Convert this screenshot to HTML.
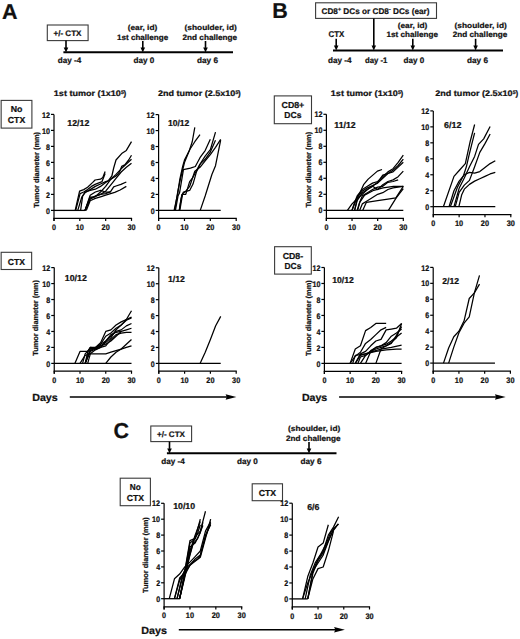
<!DOCTYPE html>
<html><head><meta charset="utf-8"><style>
html,body{margin:0;padding:0;background:#fff;}
body{width:520px;height:639px;overflow:hidden;}
svg{display:block;}
text{font-family:"Liberation Sans", sans-serif;font-weight:bold;fill:#111;stroke:#111;stroke-width:0.22px;text-rendering:geometricPrecision;}
</style></head><body>
<svg width="520" height="639" viewBox="0 0 520 639">
<rect width="520" height="639" fill="#fff"/>
<text x="2.00" y="18.80" font-size="21.5">A</text>
<text x="272.30" y="17.70" font-size="21.5">B</text>
<text x="113.40" y="437.60" font-size="21.5">C</text>
<rect x="47.30" y="25.00" width="40.80" height="15.60" fill="none" stroke="#3a3a3a" stroke-width="1.1"/>
<text x="53.50" y="36.10" font-size="8.0" textLength="28.00" lengthAdjust="spacingAndGlyphs">+/- CTX</text>
<line x1="66.00" y1="40.60" x2="66.00" y2="47.90" stroke="#000" stroke-width="1.6"/>
<path d="M63.70,47.40 L68.30,47.40 L66.00,52.40 Z" fill="#000"/>
<line x1="63.40" y1="52.30" x2="233.00" y2="52.30" stroke="#000" stroke-width="2.0"/>
<text x="127.70" y="30.30" font-size="7.6" textLength="29.60" lengthAdjust="spacingAndGlyphs">(ear, id)</text>
<text x="117.00" y="39.60" font-size="7.8" textLength="51.20" lengthAdjust="spacingAndGlyphs">1st challenge</text>
<line x1="142.80" y1="41.00" x2="142.80" y2="47.90" stroke="#000" stroke-width="1.6"/>
<path d="M140.50,47.40 L145.10,47.40 L142.80,52.40 Z" fill="#000"/>
<text x="184.60" y="30.30" font-size="7.6" textLength="52.20" lengthAdjust="spacingAndGlyphs">(shoulder, id)</text>
<text x="182.50" y="39.60" font-size="7.8" textLength="54.60" lengthAdjust="spacingAndGlyphs">2nd challenge</text>
<line x1="205.50" y1="41.00" x2="205.50" y2="47.90" stroke="#000" stroke-width="1.6"/>
<path d="M203.20,47.40 L207.80,47.40 L205.50,52.40 Z" fill="#000"/>
<text x="57.70" y="62.70" font-size="8.1" textLength="23.50" lengthAdjust="spacingAndGlyphs">day -4</text>
<text x="133.60" y="62.70" font-size="8.1" textLength="20.80" lengthAdjust="spacingAndGlyphs">day 0</text>
<text x="197.00" y="62.70" font-size="8.1" textLength="21.00" lengthAdjust="spacingAndGlyphs">day 6</text>
<rect x="150.80" y="426.00" width="40.80" height="15.60" fill="none" stroke="#3a3a3a" stroke-width="1.1"/>
<text x="157.00" y="437.10" font-size="8.0" textLength="28.00" lengthAdjust="spacingAndGlyphs">+/- CTX</text>
<line x1="169.50" y1="441.60" x2="169.50" y2="448.90" stroke="#000" stroke-width="1.6"/>
<path d="M167.20,448.40 L171.80,448.40 L169.50,453.40 Z" fill="#000"/>
<line x1="166.90" y1="453.30" x2="336.50" y2="453.30" stroke="#000" stroke-width="2.0"/>
<text x="288.10" y="431.30" font-size="7.6" textLength="52.20" lengthAdjust="spacingAndGlyphs">(shoulder, id)</text>
<text x="286.00" y="440.60" font-size="7.8" textLength="54.60" lengthAdjust="spacingAndGlyphs">2nd challenge</text>
<line x1="309.00" y1="442.00" x2="309.00" y2="448.90" stroke="#000" stroke-width="1.6"/>
<path d="M306.70,448.40 L311.30,448.40 L309.00,453.40 Z" fill="#000"/>
<text x="161.20" y="463.70" font-size="8.1" textLength="23.50" lengthAdjust="spacingAndGlyphs">day -4</text>
<text x="237.10" y="463.70" font-size="8.1" textLength="20.80" lengthAdjust="spacingAndGlyphs">day 0</text>
<text x="300.50" y="463.70" font-size="8.1" textLength="21.00" lengthAdjust="spacingAndGlyphs">day 6</text>
<rect x="315.60" y="2.80" width="120.90" height="15.60" fill="none" stroke="#3a3a3a" stroke-width="1.1"/>
<text x="321.5" y="13.8" font-size="8.2" textLength="108" lengthAdjust="spacingAndGlyphs">CD8<tspan font-size="5.2" dy="-3">+</tspan><tspan dy="3"> DCs or CD8</tspan><tspan font-size="5.2" dy="-3">-</tspan><tspan dy="3"> DCs (ear)</tspan></text>
<text x="328.50" y="36.70" font-size="8.4" textLength="15.80" lengthAdjust="spacingAndGlyphs">CTX</text>
<line x1="336.20" y1="38.80" x2="336.20" y2="46.00" stroke="#000" stroke-width="1.6"/>
<path d="M333.90,45.50 L338.50,45.50 L336.20,50.50 Z" fill="#000"/>
<line x1="373.80" y1="18.40" x2="373.80" y2="46.00" stroke="#000" stroke-width="1.6"/>
<path d="M371.50,45.50 L376.10,45.50 L373.80,50.50 Z" fill="#000"/>
<line x1="333.00" y1="50.50" x2="503.00" y2="50.50" stroke="#000" stroke-width="2.0"/>
<text x="397.70" y="27.60" font-size="7.6" textLength="29.70" lengthAdjust="spacingAndGlyphs">(ear, id)</text>
<text x="386.50" y="37.20" font-size="7.8" textLength="51.50" lengthAdjust="spacingAndGlyphs">1st challenge</text>
<line x1="412.80" y1="38.80" x2="412.80" y2="46.00" stroke="#000" stroke-width="1.6"/>
<path d="M410.50,45.50 L415.10,45.50 L412.80,50.50 Z" fill="#000"/>
<text x="454.60" y="27.60" font-size="7.6" textLength="52.20" lengthAdjust="spacingAndGlyphs">(shoulder, id)</text>
<text x="452.80" y="37.20" font-size="7.8" textLength="54.40" lengthAdjust="spacingAndGlyphs">2nd challenge</text>
<line x1="475.60" y1="38.80" x2="475.60" y2="46.00" stroke="#000" stroke-width="1.6"/>
<path d="M473.30,45.50 L477.90,45.50 L475.60,50.50 Z" fill="#000"/>
<text x="328.00" y="62.70" font-size="8.1" textLength="23.50" lengthAdjust="spacingAndGlyphs">day -4</text>
<text x="364.90" y="62.70" font-size="8.1" textLength="22.50" lengthAdjust="spacingAndGlyphs">day -1</text>
<text x="403.50" y="62.70" font-size="8.1" textLength="20.70" lengthAdjust="spacingAndGlyphs">day 0</text>
<text x="467.00" y="62.70" font-size="8.1" textLength="21.00" lengthAdjust="spacingAndGlyphs">day 6</text>
<text x="53.80" y="95.60" font-size="8.1" textLength="67.00" lengthAdjust="spacingAndGlyphs">1st tumor (1x10</text>
<text x="120.90" y="93.50" font-size="5.0" textLength="2.90" lengthAdjust="spacingAndGlyphs">5</text>
<text x="123.60" y="95.60" font-size="8.1" textLength="2.70" lengthAdjust="spacingAndGlyphs">)</text>
<text x="330.80" y="95.60" font-size="8.1" textLength="67.00" lengthAdjust="spacingAndGlyphs">1st tumor (1x10</text>
<text x="397.90" y="93.50" font-size="5.0" textLength="2.90" lengthAdjust="spacingAndGlyphs">5</text>
<text x="400.60" y="95.60" font-size="8.1" textLength="2.70" lengthAdjust="spacingAndGlyphs">)</text>
<text x="158.00" y="95.60" font-size="8.1" textLength="77.30" lengthAdjust="spacingAndGlyphs">2nd tumor (2.5x10</text>
<text x="235.40" y="93.50" font-size="5.0" textLength="2.90" lengthAdjust="spacingAndGlyphs">5</text>
<text x="238.10" y="95.60" font-size="8.1" textLength="2.70" lengthAdjust="spacingAndGlyphs">)</text>
<text x="435.30" y="95.60" font-size="8.1" textLength="77.30" lengthAdjust="spacingAndGlyphs">2nd tumor (2.5x10</text>
<text x="512.70" y="93.50" font-size="5.0" textLength="2.90" lengthAdjust="spacingAndGlyphs">5</text>
<text x="515.40" y="95.60" font-size="8.1" textLength="2.70" lengthAdjust="spacingAndGlyphs">)</text>
<rect x="1.15" y="100.40" width="30.75" height="27.70" fill="none" stroke="#3a3a3a" stroke-width="1.1"/>
<text x="16.52" y="112.10" font-size="8.7" text-anchor="middle" textLength="11.70" lengthAdjust="spacingAndGlyphs">No</text>
<text x="16.52" y="122.50" font-size="8.7" text-anchor="middle" textLength="17.30" lengthAdjust="spacingAndGlyphs">CTX</text>
<rect x="1.15" y="252.30" width="30.50" height="17.20" fill="none" stroke="#3a3a3a" stroke-width="1.1"/>
<text x="16.40" y="264.50" font-size="8.7" text-anchor="middle" textLength="17.10" lengthAdjust="spacingAndGlyphs">CTX</text>
<rect x="274.30" y="95.90" width="37.20" height="27.80" fill="none" stroke="#3a3a3a" stroke-width="1.1"/>
<text x="292.90" y="107.80" font-size="8.7" text-anchor="middle" textLength="22.70" lengthAdjust="spacingAndGlyphs">CD8+</text>
<text x="292.90" y="117.90" font-size="8.7" text-anchor="middle" textLength="17.10" lengthAdjust="spacingAndGlyphs">DCs</text>
<rect x="274.60" y="246.70" width="36.70" height="27.40" fill="none" stroke="#3a3a3a" stroke-width="1.1"/>
<text x="292.95" y="258.50" font-size="8.7" text-anchor="middle" textLength="20.50" lengthAdjust="spacingAndGlyphs">CD8-</text>
<text x="292.95" y="269.00" font-size="8.7" text-anchor="middle" textLength="16.80" lengthAdjust="spacingAndGlyphs">DCs</text>
<rect x="120.20" y="478.20" width="30.20" height="27.50" fill="none" stroke="#3a3a3a" stroke-width="1.1"/>
<text x="135.30" y="489.80" font-size="8.7" text-anchor="middle" textLength="11.00" lengthAdjust="spacingAndGlyphs">No</text>
<text x="135.30" y="500.50" font-size="8.7" text-anchor="middle" textLength="17.20" lengthAdjust="spacingAndGlyphs">CTX</text>
<rect x="252.20" y="483.80" width="30.30" height="16.90" fill="none" stroke="#3a3a3a" stroke-width="1.1"/>
<text x="267.35" y="495.50" font-size="8.7" text-anchor="middle" textLength="17.30" lengthAdjust="spacingAndGlyphs">CTX</text>
<text x="32.20" y="401.30" font-size="10.3" textLength="25.60" lengthAdjust="spacingAndGlyphs">Days</text>
<line x1="69.80" y1="397.00" x2="227.40" y2="397.00" stroke="#000" stroke-width="1.35"/>
<path d="M225.60,394.20 L236.40,397.00 L225.60,399.80 L226.80,397.00 Z" fill="#000"/>
<text x="301.90" y="401.30" font-size="10.3" textLength="25.40" lengthAdjust="spacingAndGlyphs">Days</text>
<line x1="339.10" y1="397.00" x2="496.70" y2="397.00" stroke="#000" stroke-width="1.35"/>
<path d="M494.90,394.20 L505.70,397.00 L494.90,399.80 L496.10,397.00 Z" fill="#000"/>
<text x="141.20" y="633.90" font-size="10.3" textLength="25.70" lengthAdjust="spacingAndGlyphs">Days</text>
<line x1="178.80" y1="629.70" x2="335.90" y2="629.70" stroke="#000" stroke-width="1.35"/>
<path d="M334.10,626.90 L344.90,629.70 L334.10,632.50 L335.30,629.70 Z" fill="#000"/>
<line x1="54.00" y1="114.40" x2="54.00" y2="220.90" stroke="#000" stroke-width="1.2"/>
<line x1="53.40" y1="218.30" x2="132.10" y2="218.30" stroke="#000" stroke-width="1.2"/>
<line x1="51.00" y1="210.40" x2="54.00" y2="210.40" stroke="#000" stroke-width="1.2"/>
<text x="50.00" y="213.50" font-size="8.1" text-anchor="end" textLength="3.95" lengthAdjust="spacingAndGlyphs">0</text>
<line x1="51.00" y1="194.40" x2="54.00" y2="194.40" stroke="#000" stroke-width="1.2"/>
<text x="50.00" y="197.50" font-size="8.1" text-anchor="end" textLength="3.95" lengthAdjust="spacingAndGlyphs">2</text>
<line x1="51.00" y1="178.40" x2="54.00" y2="178.40" stroke="#000" stroke-width="1.2"/>
<text x="50.00" y="181.50" font-size="8.1" text-anchor="end" textLength="3.95" lengthAdjust="spacingAndGlyphs">4</text>
<line x1="51.00" y1="162.40" x2="54.00" y2="162.40" stroke="#000" stroke-width="1.2"/>
<text x="50.00" y="165.50" font-size="8.1" text-anchor="end" textLength="3.95" lengthAdjust="spacingAndGlyphs">6</text>
<line x1="51.00" y1="146.40" x2="54.00" y2="146.40" stroke="#000" stroke-width="1.2"/>
<text x="50.00" y="149.50" font-size="8.1" text-anchor="end" textLength="3.95" lengthAdjust="spacingAndGlyphs">8</text>
<line x1="51.00" y1="130.40" x2="54.00" y2="130.40" stroke="#000" stroke-width="1.2"/>
<text x="50.00" y="133.50" font-size="8.1" text-anchor="end" textLength="8.00" lengthAdjust="spacingAndGlyphs">10</text>
<line x1="51.00" y1="114.40" x2="54.00" y2="114.40" stroke="#000" stroke-width="1.2"/>
<text x="50.00" y="117.50" font-size="8.1" text-anchor="end" textLength="8.00" lengthAdjust="spacingAndGlyphs">12</text>
<line x1="54.00" y1="218.30" x2="54.00" y2="220.90" stroke="#000" stroke-width="1.2"/>
<text x="54.00" y="229.90" font-size="8.0" text-anchor="middle" textLength="4.00" lengthAdjust="spacingAndGlyphs">0</text>
<line x1="79.83" y1="218.30" x2="79.83" y2="220.90" stroke="#000" stroke-width="1.2"/>
<text x="79.83" y="229.90" font-size="8.0" text-anchor="middle" textLength="8.20" lengthAdjust="spacingAndGlyphs">10</text>
<line x1="105.67" y1="218.30" x2="105.67" y2="220.90" stroke="#000" stroke-width="1.2"/>
<text x="105.67" y="229.90" font-size="8.0" text-anchor="middle" textLength="8.20" lengthAdjust="spacingAndGlyphs">20</text>
<line x1="131.50" y1="218.30" x2="131.50" y2="220.90" stroke="#000" stroke-width="1.2"/>
<text x="131.50" y="229.90" font-size="8.0" text-anchor="middle" textLength="8.20" lengthAdjust="spacingAndGlyphs">30</text>
<line x1="54.00" y1="210.40" x2="85.26" y2="210.40" stroke="#000" stroke-width="1.3"/>
<polyline points="75.18,210.40 79.58,191.20 83.71,189.60 87.58,187.20 92.75,182.40 95.08,180.00 100.50,179.20 102.82,177.60 105.15,171.60" fill="none" stroke="#000" stroke-width="1.25" stroke-linejoin="round"/>
<polyline points="75.70,210.40 80.09,193.60 83.71,192.00 87.58,189.60 91.46,186.40 95.08,184.40 102.05,181.60 105.15,173.60" fill="none" stroke="#000" stroke-width="1.25" stroke-linejoin="round"/>
<polyline points="77.77,210.40 81.90,196.80 85.00,192.80 90.17,189.60 95.33,186.40 100.50,184.00 105.67,181.60 108.25,180.80 111.87,176.00 113.68,168.00 116.00,160.00 121.68,153.60 126.33,150.40 131.50,141.60" fill="none" stroke="#000" stroke-width="1.25" stroke-linejoin="round"/>
<polyline points="80.61,210.40 82.67,196.00 85.00,192.00 90.17,190.40 95.33,189.20 100.50,186.40 105.67,182.40 110.83,179.20 116.00,176.00 118.58,173.60 120.13,170.40 121.68,166.40 124.78,164.80 128.66,160.00 131.50,155.20" fill="none" stroke="#000" stroke-width="1.25" stroke-linejoin="round"/>
<polyline points="85.00,210.40 89.91,197.20 95.08,196.80 100.50,192.00 105.67,186.40 110.83,179.20 116.00,174.40 121.17,168.80 126.33,164.00 131.50,159.20" fill="none" stroke="#000" stroke-width="1.25" stroke-linejoin="round"/>
<polyline points="85.00,210.40 89.91,198.40 95.33,196.00 100.50,194.40 105.67,191.20 110.83,184.80 116.00,178.40 121.17,172.00 126.33,167.20 131.50,163.20" fill="none" stroke="#000" stroke-width="1.25" stroke-linejoin="round"/>
<polyline points="85.00,210.40 90.17,199.20 95.33,196.40 100.50,194.40 105.67,193.60 110.58,191.60 113.68,186.80 116.00,186.00 120.91,184.40 126.33,182.00" fill="none" stroke="#000" stroke-width="1.25" stroke-linejoin="round"/>
<polyline points="86.29,210.40 90.17,200.80 95.33,198.40 100.50,196.80 105.67,195.20 110.58,193.60 114.71,192.40 120.13,190.00 126.33,186.40" fill="none" stroke="#000" stroke-width="1.25" stroke-linejoin="round"/>
<polyline points="85.00,210.40 90.17,195.20 95.33,192.00 100.50,190.40 105.67,192.00 110.58,192.00" fill="none" stroke="#000" stroke-width="1.25" stroke-linejoin="round"/>
<text transform="translate(39.00,169.80) rotate(-90)" x="0" y="0" font-size="7.4" text-anchor="middle" textLength="75.7" lengthAdjust="spacingAndGlyphs">Tumor diameter (mm)</text>
<text x="67.30" y="125.70" font-size="8.6" textLength="22.00" lengthAdjust="spacingAndGlyphs">12/12</text>
<line x1="158.60" y1="114.60" x2="158.60" y2="221.00" stroke="#000" stroke-width="1.2"/>
<line x1="158.00" y1="218.40" x2="236.80" y2="218.40" stroke="#000" stroke-width="1.2"/>
<line x1="155.60" y1="210.40" x2="158.60" y2="210.40" stroke="#000" stroke-width="1.2"/>
<text x="154.60" y="213.50" font-size="8.1" text-anchor="end" textLength="3.95" lengthAdjust="spacingAndGlyphs">0</text>
<line x1="155.60" y1="194.43" x2="158.60" y2="194.43" stroke="#000" stroke-width="1.2"/>
<text x="154.60" y="197.53" font-size="8.1" text-anchor="end" textLength="3.95" lengthAdjust="spacingAndGlyphs">2</text>
<line x1="155.60" y1="178.47" x2="158.60" y2="178.47" stroke="#000" stroke-width="1.2"/>
<text x="154.60" y="181.57" font-size="8.1" text-anchor="end" textLength="3.95" lengthAdjust="spacingAndGlyphs">4</text>
<line x1="155.60" y1="162.50" x2="158.60" y2="162.50" stroke="#000" stroke-width="1.2"/>
<text x="154.60" y="165.60" font-size="8.1" text-anchor="end" textLength="3.95" lengthAdjust="spacingAndGlyphs">6</text>
<line x1="155.60" y1="146.53" x2="158.60" y2="146.53" stroke="#000" stroke-width="1.2"/>
<text x="154.60" y="149.63" font-size="8.1" text-anchor="end" textLength="3.95" lengthAdjust="spacingAndGlyphs">8</text>
<line x1="155.60" y1="130.57" x2="158.60" y2="130.57" stroke="#000" stroke-width="1.2"/>
<text x="154.60" y="133.67" font-size="8.1" text-anchor="end" textLength="8.00" lengthAdjust="spacingAndGlyphs">10</text>
<line x1="155.60" y1="114.60" x2="158.60" y2="114.60" stroke="#000" stroke-width="1.2"/>
<text x="154.60" y="117.70" font-size="8.1" text-anchor="end" textLength="8.00" lengthAdjust="spacingAndGlyphs">12</text>
<line x1="158.60" y1="218.40" x2="158.60" y2="221.00" stroke="#000" stroke-width="1.2"/>
<text x="158.60" y="230.00" font-size="8.0" text-anchor="middle" textLength="4.00" lengthAdjust="spacingAndGlyphs">0</text>
<line x1="184.47" y1="218.40" x2="184.47" y2="221.00" stroke="#000" stroke-width="1.2"/>
<text x="184.47" y="230.00" font-size="8.0" text-anchor="middle" textLength="8.20" lengthAdjust="spacingAndGlyphs">10</text>
<line x1="210.33" y1="218.40" x2="210.33" y2="221.00" stroke="#000" stroke-width="1.2"/>
<text x="210.33" y="230.00" font-size="8.0" text-anchor="middle" textLength="8.20" lengthAdjust="spacingAndGlyphs">20</text>
<line x1="236.20" y1="218.40" x2="236.20" y2="221.00" stroke="#000" stroke-width="1.2"/>
<text x="236.20" y="230.00" font-size="8.0" text-anchor="middle" textLength="8.20" lengthAdjust="spacingAndGlyphs">30</text>
<line x1="158.60" y1="210.40" x2="220.68" y2="210.40" stroke="#000" stroke-width="1.3"/>
<polyline points="174.12,210.40 177.74,193.63 179.81,179.27 182.66,166.49 184.47,160.11 189.38,150.53 192.23,141.74 194.81,127.37" fill="none" stroke="#000" stroke-width="1.25" stroke-linejoin="round"/>
<polyline points="174.64,210.40 178.00,190.44 180.59,178.47 184.47,162.50 189.64,149.73 194.81,141.74 199.99,134.56" fill="none" stroke="#000" stroke-width="1.25" stroke-linejoin="round"/>
<polyline points="175.41,210.40 178.00,196.03 179.55,192.84 183.43,169.69 190.42,168.09 195.33,166.49 199.99,157.71 205.16,150.53 210.33,139.35" fill="none" stroke="#000" stroke-width="1.25" stroke-linejoin="round"/>
<polyline points="179.29,210.40 181.10,198.43 183.43,192.04 189.64,190.44 193.00,184.06 196.37,172.08 201.02,162.50 205.16,156.11 210.33,149.73 215.51,132.16" fill="none" stroke="#000" stroke-width="1.25" stroke-linejoin="round"/>
<polyline points="179.29,210.40 181.88,194.43 185.76,194.43 189.64,181.66 192.23,178.47 194.81,173.68 199.99,164.10 205.16,159.31 210.33,152.12 215.51,140.15" fill="none" stroke="#000" stroke-width="1.25" stroke-linejoin="round"/>
<polyline points="179.81,210.40 182.66,193.63 185.76,191.24 189.64,186.45 194.81,171.28 199.99,167.29 205.16,160.90 210.33,154.52 215.51,147.33 220.68,139.35" fill="none" stroke="#000" stroke-width="1.25" stroke-linejoin="round"/>
<polyline points="200.25,210.40 205.16,196.03 211.89,174.47 215.51,165.69 220.68,140.15" fill="none" stroke="#000" stroke-width="1.25" stroke-linejoin="round"/>
<text x="167.90" y="126.00" font-size="8.6" textLength="21.50" lengthAdjust="spacingAndGlyphs">10/12</text>
<line x1="326.40" y1="114.30" x2="326.40" y2="220.90" stroke="#000" stroke-width="1.2"/>
<line x1="325.80" y1="218.30" x2="403.90" y2="218.30" stroke="#000" stroke-width="1.2"/>
<line x1="323.40" y1="210.30" x2="326.40" y2="210.30" stroke="#000" stroke-width="1.2"/>
<text x="322.40" y="213.40" font-size="8.1" text-anchor="end" textLength="3.95" lengthAdjust="spacingAndGlyphs">0</text>
<line x1="323.40" y1="194.30" x2="326.40" y2="194.30" stroke="#000" stroke-width="1.2"/>
<text x="322.40" y="197.40" font-size="8.1" text-anchor="end" textLength="3.95" lengthAdjust="spacingAndGlyphs">2</text>
<line x1="323.40" y1="178.30" x2="326.40" y2="178.30" stroke="#000" stroke-width="1.2"/>
<text x="322.40" y="181.40" font-size="8.1" text-anchor="end" textLength="3.95" lengthAdjust="spacingAndGlyphs">4</text>
<line x1="323.40" y1="162.30" x2="326.40" y2="162.30" stroke="#000" stroke-width="1.2"/>
<text x="322.40" y="165.40" font-size="8.1" text-anchor="end" textLength="3.95" lengthAdjust="spacingAndGlyphs">6</text>
<line x1="323.40" y1="146.30" x2="326.40" y2="146.30" stroke="#000" stroke-width="1.2"/>
<text x="322.40" y="149.40" font-size="8.1" text-anchor="end" textLength="3.95" lengthAdjust="spacingAndGlyphs">8</text>
<line x1="323.40" y1="130.30" x2="326.40" y2="130.30" stroke="#000" stroke-width="1.2"/>
<text x="322.40" y="133.40" font-size="8.1" text-anchor="end" textLength="8.00" lengthAdjust="spacingAndGlyphs">10</text>
<line x1="323.40" y1="114.30" x2="326.40" y2="114.30" stroke="#000" stroke-width="1.2"/>
<text x="322.40" y="117.40" font-size="8.1" text-anchor="end" textLength="8.00" lengthAdjust="spacingAndGlyphs">12</text>
<line x1="326.40" y1="218.30" x2="326.40" y2="220.90" stroke="#000" stroke-width="1.2"/>
<text x="326.40" y="229.90" font-size="8.0" text-anchor="middle" textLength="4.00" lengthAdjust="spacingAndGlyphs">0</text>
<line x1="352.03" y1="218.30" x2="352.03" y2="220.90" stroke="#000" stroke-width="1.2"/>
<text x="352.03" y="229.90" font-size="8.0" text-anchor="middle" textLength="8.20" lengthAdjust="spacingAndGlyphs">10</text>
<line x1="377.67" y1="218.30" x2="377.67" y2="220.90" stroke="#000" stroke-width="1.2"/>
<text x="377.67" y="229.90" font-size="8.0" text-anchor="middle" textLength="8.20" lengthAdjust="spacingAndGlyphs">20</text>
<line x1="403.30" y1="218.30" x2="403.30" y2="220.90" stroke="#000" stroke-width="1.2"/>
<text x="403.30" y="229.90" font-size="8.0" text-anchor="middle" textLength="8.20" lengthAdjust="spacingAndGlyphs">30</text>
<line x1="326.40" y1="210.30" x2="403.30" y2="210.30" stroke="#000" stroke-width="1.3"/>
<polyline points="347.42,210.30 352.03,203.90 356.39,199.50 359.98,192.70 363.57,184.70 368.18,179.10 372.80,175.10 377.41,171.10 382.02,169.50" fill="none" stroke="#000" stroke-width="1.25" stroke-linejoin="round"/>
<polyline points="352.03,210.30 354.60,202.30 357.16,195.90 362.29,189.50 367.41,186.30 372.54,183.10 377.67,181.50 382.79,176.70 387.92,171.90 393.05,168.70 398.17,162.30 403.30,155.10" fill="none" stroke="#000" stroke-width="1.25" stroke-linejoin="round"/>
<polyline points="352.03,210.30 357.16,197.50 362.29,191.10 367.41,187.90 372.54,185.50 377.67,183.10 382.79,178.30 387.92,173.50 393.05,170.30 398.17,165.50 403.30,159.10" fill="none" stroke="#000" stroke-width="1.25" stroke-linejoin="round"/>
<polyline points="354.60,210.30 357.16,199.10 362.29,194.30 367.41,189.50 372.54,186.30 377.67,182.30 382.79,175.10 387.92,173.50 393.05,171.90 398.17,167.10 403.30,162.30" fill="none" stroke="#000" stroke-width="1.25" stroke-linejoin="round"/>
<polyline points="354.60,210.30 357.16,200.70 362.29,192.70 367.41,189.50 372.54,186.30 377.67,189.50 382.79,184.70 387.92,181.50 393.05,179.90 398.17,176.70 403.30,171.10" fill="none" stroke="#000" stroke-width="1.25" stroke-linejoin="round"/>
<polyline points="357.16,210.30 359.72,202.30 362.29,195.90 367.41,192.70 372.54,189.50 377.67,187.10 382.79,186.30 387.92,182.30 393.05,181.50 398.17,179.90" fill="none" stroke="#000" stroke-width="1.25" stroke-linejoin="round"/>
<polyline points="357.67,210.30 359.72,202.30 364.59,195.10 373.82,190.30 383.05,187.90 393.56,186.30 403.30,186.30" fill="none" stroke="#000" stroke-width="1.25" stroke-linejoin="round"/>
<polyline points="359.72,210.30 362.29,203.90 367.41,200.70 372.54,197.50 377.67,194.30 382.79,192.70 387.92,189.50 393.05,187.90 398.17,187.10 403.30,186.30" fill="none" stroke="#000" stroke-width="1.25" stroke-linejoin="round"/>
<polyline points="362.80,210.30 366.39,202.30 377.67,200.70 387.92,199.10 395.87,197.90 403.30,186.30" fill="none" stroke="#000" stroke-width="1.25" stroke-linejoin="round"/>
<polyline points="388.43,210.30 395.87,198.30 403.30,188.70" fill="none" stroke="#000" stroke-width="1.25" stroke-linejoin="round"/>
<text transform="translate(310.80,169.75) rotate(-90)" x="0" y="0" font-size="7.4" text-anchor="middle" textLength="75.7" lengthAdjust="spacingAndGlyphs">Tumor diameter (mm)</text>
<text x="334.30" y="127.60" font-size="8.6" textLength="21.40" lengthAdjust="spacingAndGlyphs">11/12</text>
<line x1="433.30" y1="110.90" x2="433.30" y2="217.20" stroke="#000" stroke-width="1.2"/>
<line x1="432.70" y1="214.60" x2="511.40" y2="214.60" stroke="#000" stroke-width="1.2"/>
<line x1="430.30" y1="206.70" x2="433.30" y2="206.70" stroke="#000" stroke-width="1.2"/>
<text x="429.30" y="209.80" font-size="8.1" text-anchor="end" textLength="3.95" lengthAdjust="spacingAndGlyphs">0</text>
<line x1="430.30" y1="190.73" x2="433.30" y2="190.73" stroke="#000" stroke-width="1.2"/>
<text x="429.30" y="193.83" font-size="8.1" text-anchor="end" textLength="3.95" lengthAdjust="spacingAndGlyphs">2</text>
<line x1="430.30" y1="174.77" x2="433.30" y2="174.77" stroke="#000" stroke-width="1.2"/>
<text x="429.30" y="177.87" font-size="8.1" text-anchor="end" textLength="3.95" lengthAdjust="spacingAndGlyphs">4</text>
<line x1="430.30" y1="158.80" x2="433.30" y2="158.80" stroke="#000" stroke-width="1.2"/>
<text x="429.30" y="161.90" font-size="8.1" text-anchor="end" textLength="3.95" lengthAdjust="spacingAndGlyphs">6</text>
<line x1="430.30" y1="142.83" x2="433.30" y2="142.83" stroke="#000" stroke-width="1.2"/>
<text x="429.30" y="145.93" font-size="8.1" text-anchor="end" textLength="3.95" lengthAdjust="spacingAndGlyphs">8</text>
<line x1="430.30" y1="126.87" x2="433.30" y2="126.87" stroke="#000" stroke-width="1.2"/>
<text x="429.30" y="129.97" font-size="8.1" text-anchor="end" textLength="8.00" lengthAdjust="spacingAndGlyphs">10</text>
<line x1="430.30" y1="110.90" x2="433.30" y2="110.90" stroke="#000" stroke-width="1.2"/>
<text x="429.30" y="114.00" font-size="8.1" text-anchor="end" textLength="8.00" lengthAdjust="spacingAndGlyphs">12</text>
<line x1="433.30" y1="214.60" x2="433.30" y2="217.20" stroke="#000" stroke-width="1.2"/>
<text x="433.30" y="226.20" font-size="8.0" text-anchor="middle" textLength="4.00" lengthAdjust="spacingAndGlyphs">0</text>
<line x1="459.13" y1="214.60" x2="459.13" y2="217.20" stroke="#000" stroke-width="1.2"/>
<text x="459.13" y="226.20" font-size="8.0" text-anchor="middle" textLength="8.20" lengthAdjust="spacingAndGlyphs">10</text>
<line x1="484.97" y1="214.60" x2="484.97" y2="217.20" stroke="#000" stroke-width="1.2"/>
<text x="484.97" y="226.20" font-size="8.0" text-anchor="middle" textLength="8.20" lengthAdjust="spacingAndGlyphs">20</text>
<line x1="510.80" y1="214.60" x2="510.80" y2="217.20" stroke="#000" stroke-width="1.2"/>
<text x="510.80" y="226.20" font-size="8.0" text-anchor="middle" textLength="8.20" lengthAdjust="spacingAndGlyphs">30</text>
<line x1="433.30" y1="206.70" x2="495.30" y2="206.70" stroke="#000" stroke-width="1.3"/>
<polyline points="443.38,206.70 453.97,176.36 459.65,169.98 465.33,163.59 470.24,141.24 474.63,124.47" fill="none" stroke="#000" stroke-width="1.25" stroke-linejoin="round"/>
<polyline points="449.06,206.70 453.97,190.73 459.13,181.15 464.30,174.77 469.47,172.37 474.63,173.17 479.80,171.57 484.97,167.58 490.13,163.59 495.30,160.80" fill="none" stroke="#000" stroke-width="1.25" stroke-linejoin="round"/>
<polyline points="450.35,206.70 457.32,187.54 463.53,175.56 466.37,166.78 468.95,155.61 471.79,144.03 474.63,132.85" fill="none" stroke="#000" stroke-width="1.25" stroke-linejoin="round"/>
<polyline points="453.97,206.70 459.13,188.34 464.30,177.96 469.47,166.78 474.63,156.41 478.51,144.43 483.68,138.84 490.13,126.47" fill="none" stroke="#000" stroke-width="1.25" stroke-linejoin="round"/>
<polyline points="455.26,206.70 459.13,192.33 464.30,185.14 469.47,180.35 474.63,166.78 479.80,152.41 484.97,143.63 490.13,134.05" fill="none" stroke="#000" stroke-width="1.25" stroke-linejoin="round"/>
<polyline points="458.88,206.70 461.72,194.72 464.30,189.14 469.47,184.35 474.63,181.15 479.80,178.76 484.97,176.36 490.13,173.97 495.30,172.37" fill="none" stroke="#000" stroke-width="1.25" stroke-linejoin="round"/>
<text x="444.00" y="127.70" font-size="8.6" textLength="17.40" lengthAdjust="spacingAndGlyphs">6/12</text>
<line x1="54.25" y1="267.60" x2="54.25" y2="373.80" stroke="#000" stroke-width="1.2"/>
<line x1="53.65" y1="371.20" x2="132.10" y2="371.20" stroke="#000" stroke-width="1.2"/>
<line x1="51.25" y1="363.40" x2="54.25" y2="363.40" stroke="#000" stroke-width="1.2"/>
<text x="50.25" y="366.50" font-size="8.1" text-anchor="end" textLength="3.95" lengthAdjust="spacingAndGlyphs">0</text>
<line x1="51.25" y1="347.43" x2="54.25" y2="347.43" stroke="#000" stroke-width="1.2"/>
<text x="50.25" y="350.53" font-size="8.1" text-anchor="end" textLength="3.95" lengthAdjust="spacingAndGlyphs">2</text>
<line x1="51.25" y1="331.47" x2="54.25" y2="331.47" stroke="#000" stroke-width="1.2"/>
<text x="50.25" y="334.57" font-size="8.1" text-anchor="end" textLength="3.95" lengthAdjust="spacingAndGlyphs">4</text>
<line x1="51.25" y1="315.50" x2="54.25" y2="315.50" stroke="#000" stroke-width="1.2"/>
<text x="50.25" y="318.60" font-size="8.1" text-anchor="end" textLength="3.95" lengthAdjust="spacingAndGlyphs">6</text>
<line x1="51.25" y1="299.53" x2="54.25" y2="299.53" stroke="#000" stroke-width="1.2"/>
<text x="50.25" y="302.63" font-size="8.1" text-anchor="end" textLength="3.95" lengthAdjust="spacingAndGlyphs">8</text>
<line x1="51.25" y1="283.57" x2="54.25" y2="283.57" stroke="#000" stroke-width="1.2"/>
<text x="50.25" y="286.67" font-size="8.1" text-anchor="end" textLength="8.00" lengthAdjust="spacingAndGlyphs">10</text>
<line x1="51.25" y1="267.60" x2="54.25" y2="267.60" stroke="#000" stroke-width="1.2"/>
<text x="50.25" y="270.70" font-size="8.1" text-anchor="end" textLength="8.00" lengthAdjust="spacingAndGlyphs">12</text>
<line x1="54.25" y1="371.20" x2="54.25" y2="373.80" stroke="#000" stroke-width="1.2"/>
<text x="54.25" y="382.80" font-size="8.0" text-anchor="middle" textLength="4.00" lengthAdjust="spacingAndGlyphs">0</text>
<line x1="80.00" y1="371.20" x2="80.00" y2="373.80" stroke="#000" stroke-width="1.2"/>
<text x="80.00" y="382.80" font-size="8.0" text-anchor="middle" textLength="8.20" lengthAdjust="spacingAndGlyphs">10</text>
<line x1="105.75" y1="371.20" x2="105.75" y2="373.80" stroke="#000" stroke-width="1.2"/>
<text x="105.75" y="382.80" font-size="8.0" text-anchor="middle" textLength="8.20" lengthAdjust="spacingAndGlyphs">20</text>
<line x1="131.50" y1="371.20" x2="131.50" y2="373.80" stroke="#000" stroke-width="1.2"/>
<text x="131.50" y="382.80" font-size="8.0" text-anchor="middle" textLength="8.20" lengthAdjust="spacingAndGlyphs">30</text>
<line x1="54.25" y1="363.40" x2="131.50" y2="363.40" stroke="#000" stroke-width="1.3"/>
<polyline points="74.85,363.40 80.00,351.42 87.72,351.42 90.30,347.43 95.45,347.43 100.60,342.64 105.75,331.47 110.90,329.87 116.05,325.08 121.20,321.89 126.35,319.49 131.50,317.10" fill="none" stroke="#000" stroke-width="1.25" stroke-linejoin="round"/>
<polyline points="80.00,363.40 85.15,355.42 90.30,353.82 95.45,353.82 100.60,353.82 105.75,353.82 110.90,352.22 116.05,350.63 121.20,349.03 126.35,347.43 131.50,345.84" fill="none" stroke="#000" stroke-width="1.25" stroke-linejoin="round"/>
<polyline points="105.75,363.40 110.90,357.01 116.05,352.22 121.20,349.03 126.35,344.24 131.50,339.45" fill="none" stroke="#000" stroke-width="1.25" stroke-linejoin="round"/>
<polyline points="82.58,363.40 85.15,353.82 90.30,348.23 95.45,349.03 100.60,345.84 105.75,342.64 110.90,337.85 116.05,329.87 121.20,325.08 126.35,319.49 131.50,310.71" fill="none" stroke="#000" stroke-width="1.25" stroke-linejoin="round"/>
<polyline points="85.15,363.40 87.72,352.22 90.30,347.43 95.45,348.23 100.60,344.24 105.75,336.26 110.90,333.06 116.05,328.27 121.20,325.08 126.35,320.29 131.50,317.89" fill="none" stroke="#000" stroke-width="1.25" stroke-linejoin="round"/>
<polyline points="85.15,363.40 90.30,350.63 95.45,347.43 100.60,344.24 105.75,341.05 110.90,336.26 116.05,331.47 121.20,329.87 126.35,325.88 131.50,323.48" fill="none" stroke="#000" stroke-width="1.25" stroke-linejoin="round"/>
<polyline points="85.15,363.40 90.30,349.03 95.45,348.23 100.60,345.84 105.75,344.24 110.90,341.05 116.05,336.26 121.20,331.47 126.35,329.87 131.50,328.27" fill="none" stroke="#000" stroke-width="1.25" stroke-linejoin="round"/>
<polyline points="87.72,363.40 90.30,353.82 95.45,349.83 100.60,347.43 105.75,345.84 110.90,339.45 116.05,334.66 121.20,333.06 126.35,332.26 131.50,332.26" fill="none" stroke="#000" stroke-width="1.25" stroke-linejoin="round"/>
<polyline points="85.15,363.40 90.30,351.42 95.45,349.03 100.60,347.43 105.75,341.05 110.90,334.66 116.05,332.26 121.20,331.47" fill="none" stroke="#000" stroke-width="1.25" stroke-linejoin="round"/>
<text transform="translate(37.80,317.95) rotate(-90)" x="0" y="0" font-size="7.4" text-anchor="middle" textLength="75.7" lengthAdjust="spacingAndGlyphs">Tumor diameter (mm)</text>
<text x="64.80" y="281.40" font-size="8.6" textLength="22.10" lengthAdjust="spacingAndGlyphs">10/12</text>
<line x1="158.80" y1="267.80" x2="158.80" y2="373.80" stroke="#000" stroke-width="1.2"/>
<line x1="158.20" y1="371.20" x2="236.80" y2="371.20" stroke="#000" stroke-width="1.2"/>
<line x1="155.80" y1="363.40" x2="158.80" y2="363.40" stroke="#000" stroke-width="1.2"/>
<text x="154.80" y="366.50" font-size="8.1" text-anchor="end" textLength="3.95" lengthAdjust="spacingAndGlyphs">0</text>
<line x1="155.80" y1="347.47" x2="158.80" y2="347.47" stroke="#000" stroke-width="1.2"/>
<text x="154.80" y="350.57" font-size="8.1" text-anchor="end" textLength="3.95" lengthAdjust="spacingAndGlyphs">2</text>
<line x1="155.80" y1="331.53" x2="158.80" y2="331.53" stroke="#000" stroke-width="1.2"/>
<text x="154.80" y="334.63" font-size="8.1" text-anchor="end" textLength="3.95" lengthAdjust="spacingAndGlyphs">4</text>
<line x1="155.80" y1="315.60" x2="158.80" y2="315.60" stroke="#000" stroke-width="1.2"/>
<text x="154.80" y="318.70" font-size="8.1" text-anchor="end" textLength="3.95" lengthAdjust="spacingAndGlyphs">6</text>
<line x1="155.80" y1="299.67" x2="158.80" y2="299.67" stroke="#000" stroke-width="1.2"/>
<text x="154.80" y="302.77" font-size="8.1" text-anchor="end" textLength="3.95" lengthAdjust="spacingAndGlyphs">8</text>
<line x1="155.80" y1="283.73" x2="158.80" y2="283.73" stroke="#000" stroke-width="1.2"/>
<text x="154.80" y="286.83" font-size="8.1" text-anchor="end" textLength="8.00" lengthAdjust="spacingAndGlyphs">10</text>
<line x1="155.80" y1="267.80" x2="158.80" y2="267.80" stroke="#000" stroke-width="1.2"/>
<text x="154.80" y="270.90" font-size="8.1" text-anchor="end" textLength="8.00" lengthAdjust="spacingAndGlyphs">12</text>
<line x1="158.80" y1="371.20" x2="158.80" y2="373.80" stroke="#000" stroke-width="1.2"/>
<text x="158.80" y="382.80" font-size="8.0" text-anchor="middle" textLength="4.00" lengthAdjust="spacingAndGlyphs">0</text>
<line x1="184.60" y1="371.20" x2="184.60" y2="373.80" stroke="#000" stroke-width="1.2"/>
<text x="184.60" y="382.80" font-size="8.0" text-anchor="middle" textLength="8.20" lengthAdjust="spacingAndGlyphs">10</text>
<line x1="210.40" y1="371.20" x2="210.40" y2="373.80" stroke="#000" stroke-width="1.2"/>
<text x="210.40" y="382.80" font-size="8.0" text-anchor="middle" textLength="8.20" lengthAdjust="spacingAndGlyphs">20</text>
<line x1="236.20" y1="371.20" x2="236.20" y2="373.80" stroke="#000" stroke-width="1.2"/>
<text x="236.20" y="382.80" font-size="8.0" text-anchor="middle" textLength="8.20" lengthAdjust="spacingAndGlyphs">30</text>
<line x1="158.80" y1="363.40" x2="220.72" y2="363.40" stroke="#000" stroke-width="1.3"/>
<polyline points="200.08,363.40 205.24,352.25 210.40,339.50 215.56,325.96 220.72,316.40" fill="none" stroke="#000" stroke-width="1.25" stroke-linejoin="round"/>
<text x="167.90" y="281.70" font-size="8.6" textLength="16.90" lengthAdjust="spacingAndGlyphs">1/12</text>
<line x1="324.40" y1="267.50" x2="324.40" y2="373.90" stroke="#000" stroke-width="1.2"/>
<line x1="323.80" y1="371.30" x2="402.20" y2="371.30" stroke="#000" stroke-width="1.2"/>
<line x1="321.40" y1="363.40" x2="324.40" y2="363.40" stroke="#000" stroke-width="1.2"/>
<text x="320.40" y="366.50" font-size="8.1" text-anchor="end" textLength="3.95" lengthAdjust="spacingAndGlyphs">0</text>
<line x1="321.40" y1="347.42" x2="324.40" y2="347.42" stroke="#000" stroke-width="1.2"/>
<text x="320.40" y="350.52" font-size="8.1" text-anchor="end" textLength="3.95" lengthAdjust="spacingAndGlyphs">2</text>
<line x1="321.40" y1="331.43" x2="324.40" y2="331.43" stroke="#000" stroke-width="1.2"/>
<text x="320.40" y="334.53" font-size="8.1" text-anchor="end" textLength="3.95" lengthAdjust="spacingAndGlyphs">4</text>
<line x1="321.40" y1="315.45" x2="324.40" y2="315.45" stroke="#000" stroke-width="1.2"/>
<text x="320.40" y="318.55" font-size="8.1" text-anchor="end" textLength="3.95" lengthAdjust="spacingAndGlyphs">6</text>
<line x1="321.40" y1="299.47" x2="324.40" y2="299.47" stroke="#000" stroke-width="1.2"/>
<text x="320.40" y="302.57" font-size="8.1" text-anchor="end" textLength="3.95" lengthAdjust="spacingAndGlyphs">8</text>
<line x1="321.40" y1="283.48" x2="324.40" y2="283.48" stroke="#000" stroke-width="1.2"/>
<text x="320.40" y="286.58" font-size="8.1" text-anchor="end" textLength="8.00" lengthAdjust="spacingAndGlyphs">10</text>
<line x1="321.40" y1="267.50" x2="324.40" y2="267.50" stroke="#000" stroke-width="1.2"/>
<text x="320.40" y="270.60" font-size="8.1" text-anchor="end" textLength="8.00" lengthAdjust="spacingAndGlyphs">12</text>
<line x1="324.40" y1="371.30" x2="324.40" y2="373.90" stroke="#000" stroke-width="1.2"/>
<text x="324.40" y="382.90" font-size="8.0" text-anchor="middle" textLength="4.00" lengthAdjust="spacingAndGlyphs">0</text>
<line x1="350.13" y1="371.30" x2="350.13" y2="373.90" stroke="#000" stroke-width="1.2"/>
<text x="350.13" y="382.90" font-size="8.0" text-anchor="middle" textLength="8.20" lengthAdjust="spacingAndGlyphs">10</text>
<line x1="375.87" y1="371.30" x2="375.87" y2="373.90" stroke="#000" stroke-width="1.2"/>
<text x="375.87" y="382.90" font-size="8.0" text-anchor="middle" textLength="8.20" lengthAdjust="spacingAndGlyphs">20</text>
<line x1="401.60" y1="371.30" x2="401.60" y2="373.90" stroke="#000" stroke-width="1.2"/>
<text x="401.60" y="382.90" font-size="8.0" text-anchor="middle" textLength="8.20" lengthAdjust="spacingAndGlyphs">30</text>
<line x1="324.40" y1="363.40" x2="401.60" y2="363.40" stroke="#000" stroke-width="1.3"/>
<polyline points="350.13,363.40 355.28,349.01 360.43,345.82 365.57,330.63 370.72,327.44 375.87,323.44 381.01,323.44 386.16,323.44" fill="none" stroke="#000" stroke-width="1.25" stroke-linejoin="round"/>
<polyline points="350.13,363.40 355.28,356.21 360.43,352.21 365.57,343.42 370.72,339.42 375.87,334.63 381.01,329.83 386.16,327.44" fill="none" stroke="#000" stroke-width="1.25" stroke-linejoin="round"/>
<polyline points="355.28,363.40 360.43,353.81 365.57,351.41 370.72,345.82 375.87,341.02 381.01,339.42 386.16,329.83 391.31,329.04 396.45,328.24 401.60,323.44" fill="none" stroke="#000" stroke-width="1.25" stroke-linejoin="round"/>
<polyline points="357.85,363.40 360.43,357.01 365.57,355.41 370.72,350.61 375.87,347.42 381.01,345.82 386.16,342.62 391.31,336.23 396.45,333.03 401.60,329.04" fill="none" stroke="#000" stroke-width="1.25" stroke-linejoin="round"/>
<polyline points="360.43,363.40 365.57,355.41 370.72,351.41 375.87,347.42 381.01,345.82 386.16,344.22 391.31,341.02 396.45,337.03 401.60,333.03" fill="none" stroke="#000" stroke-width="1.25" stroke-linejoin="round"/>
<polyline points="365.57,363.40 370.72,351.41 375.87,349.01 381.01,347.42 386.16,345.82 391.31,343.42 396.45,335.43 401.60,326.64" fill="none" stroke="#000" stroke-width="1.25" stroke-linejoin="round"/>
<polyline points="375.87,363.40 381.01,349.01 386.16,345.82 391.31,342.62 396.45,337.83 401.60,323.44" fill="none" stroke="#000" stroke-width="1.25" stroke-linejoin="round"/>
<polyline points="352.71,363.40 355.28,355.41 365.57,353.81 375.87,351.41 386.16,349.81 396.45,349.01 401.60,349.01" fill="none" stroke="#000" stroke-width="1.25" stroke-linejoin="round"/>
<polyline points="355.28,363.40 360.43,355.41 370.72,352.21 381.01,349.01 391.31,347.42 401.60,345.02" fill="none" stroke="#000" stroke-width="1.25" stroke-linejoin="round"/>
<text transform="translate(310.70,318.10) rotate(-90)" x="0" y="0" font-size="7.4" text-anchor="middle" textLength="75.7" lengthAdjust="spacingAndGlyphs">Tumor diameter (mm)</text>
<text x="332.20" y="283.40" font-size="8.6" textLength="21.70" lengthAdjust="spacingAndGlyphs">10/12</text>
<line x1="433.20" y1="267.40" x2="433.20" y2="373.70" stroke="#000" stroke-width="1.2"/>
<line x1="432.60" y1="371.10" x2="511.00" y2="371.10" stroke="#000" stroke-width="1.2"/>
<line x1="430.20" y1="363.10" x2="433.20" y2="363.10" stroke="#000" stroke-width="1.2"/>
<text x="429.20" y="366.20" font-size="8.1" text-anchor="end" textLength="3.95" lengthAdjust="spacingAndGlyphs">0</text>
<line x1="430.20" y1="347.15" x2="433.20" y2="347.15" stroke="#000" stroke-width="1.2"/>
<text x="429.20" y="350.25" font-size="8.1" text-anchor="end" textLength="3.95" lengthAdjust="spacingAndGlyphs">2</text>
<line x1="430.20" y1="331.20" x2="433.20" y2="331.20" stroke="#000" stroke-width="1.2"/>
<text x="429.20" y="334.30" font-size="8.1" text-anchor="end" textLength="3.95" lengthAdjust="spacingAndGlyphs">4</text>
<line x1="430.20" y1="315.25" x2="433.20" y2="315.25" stroke="#000" stroke-width="1.2"/>
<text x="429.20" y="318.35" font-size="8.1" text-anchor="end" textLength="3.95" lengthAdjust="spacingAndGlyphs">6</text>
<line x1="430.20" y1="299.30" x2="433.20" y2="299.30" stroke="#000" stroke-width="1.2"/>
<text x="429.20" y="302.40" font-size="8.1" text-anchor="end" textLength="3.95" lengthAdjust="spacingAndGlyphs">8</text>
<line x1="430.20" y1="283.35" x2="433.20" y2="283.35" stroke="#000" stroke-width="1.2"/>
<text x="429.20" y="286.45" font-size="8.1" text-anchor="end" textLength="8.00" lengthAdjust="spacingAndGlyphs">10</text>
<line x1="430.20" y1="267.40" x2="433.20" y2="267.40" stroke="#000" stroke-width="1.2"/>
<text x="429.20" y="270.50" font-size="8.1" text-anchor="end" textLength="8.00" lengthAdjust="spacingAndGlyphs">12</text>
<line x1="433.20" y1="371.10" x2="433.20" y2="373.70" stroke="#000" stroke-width="1.2"/>
<text x="433.20" y="382.70" font-size="8.0" text-anchor="middle" textLength="4.00" lengthAdjust="spacingAndGlyphs">0</text>
<line x1="458.93" y1="371.10" x2="458.93" y2="373.70" stroke="#000" stroke-width="1.2"/>
<text x="458.93" y="382.70" font-size="8.0" text-anchor="middle" textLength="8.20" lengthAdjust="spacingAndGlyphs">10</text>
<line x1="484.67" y1="371.10" x2="484.67" y2="373.70" stroke="#000" stroke-width="1.2"/>
<text x="484.67" y="382.70" font-size="8.0" text-anchor="middle" textLength="8.20" lengthAdjust="spacingAndGlyphs">20</text>
<line x1="510.40" y1="371.10" x2="510.40" y2="373.70" stroke="#000" stroke-width="1.2"/>
<text x="510.40" y="382.70" font-size="8.0" text-anchor="middle" textLength="8.20" lengthAdjust="spacingAndGlyphs">30</text>
<line x1="433.20" y1="363.10" x2="494.96" y2="363.10" stroke="#000" stroke-width="1.3"/>
<polyline points="443.49,363.10 448.64,347.95 453.79,336.78 458.93,331.20 464.08,320.83 469.23,298.50 474.37,292.92 479.52,284.15" fill="none" stroke="#000" stroke-width="1.25" stroke-linejoin="round"/>
<polyline points="448.64,363.10 453.79,347.15 458.93,332.80 464.08,323.23 469.23,316.85 474.37,292.92 479.52,275.38" fill="none" stroke="#000" stroke-width="1.25" stroke-linejoin="round"/>
<text x="442.20" y="283.50" font-size="8.6" textLength="16.80" lengthAdjust="spacingAndGlyphs">2/12</text>
<line x1="164.10" y1="503.30" x2="164.10" y2="609.40" stroke="#000" stroke-width="1.2"/>
<line x1="163.50" y1="606.80" x2="242.30" y2="606.80" stroke="#000" stroke-width="1.2"/>
<line x1="161.10" y1="598.70" x2="164.10" y2="598.70" stroke="#000" stroke-width="1.2"/>
<text x="160.10" y="601.80" font-size="8.1" text-anchor="end" textLength="3.95" lengthAdjust="spacingAndGlyphs">0</text>
<line x1="161.10" y1="582.80" x2="164.10" y2="582.80" stroke="#000" stroke-width="1.2"/>
<text x="160.10" y="585.90" font-size="8.1" text-anchor="end" textLength="3.95" lengthAdjust="spacingAndGlyphs">2</text>
<line x1="161.10" y1="566.90" x2="164.10" y2="566.90" stroke="#000" stroke-width="1.2"/>
<text x="160.10" y="570.00" font-size="8.1" text-anchor="end" textLength="3.95" lengthAdjust="spacingAndGlyphs">4</text>
<line x1="161.10" y1="551.00" x2="164.10" y2="551.00" stroke="#000" stroke-width="1.2"/>
<text x="160.10" y="554.10" font-size="8.1" text-anchor="end" textLength="3.95" lengthAdjust="spacingAndGlyphs">6</text>
<line x1="161.10" y1="535.10" x2="164.10" y2="535.10" stroke="#000" stroke-width="1.2"/>
<text x="160.10" y="538.20" font-size="8.1" text-anchor="end" textLength="3.95" lengthAdjust="spacingAndGlyphs">8</text>
<line x1="161.10" y1="519.20" x2="164.10" y2="519.20" stroke="#000" stroke-width="1.2"/>
<text x="160.10" y="522.30" font-size="8.1" text-anchor="end" textLength="8.00" lengthAdjust="spacingAndGlyphs">10</text>
<line x1="161.10" y1="503.30" x2="164.10" y2="503.30" stroke="#000" stroke-width="1.2"/>
<text x="160.10" y="506.40" font-size="8.1" text-anchor="end" textLength="8.00" lengthAdjust="spacingAndGlyphs">12</text>
<line x1="164.10" y1="606.80" x2="164.10" y2="609.40" stroke="#000" stroke-width="1.2"/>
<text x="164.10" y="618.40" font-size="8.0" text-anchor="middle" textLength="4.00" lengthAdjust="spacingAndGlyphs">0</text>
<line x1="189.97" y1="606.80" x2="189.97" y2="609.40" stroke="#000" stroke-width="1.2"/>
<text x="189.97" y="618.40" font-size="8.0" text-anchor="middle" textLength="8.20" lengthAdjust="spacingAndGlyphs">10</text>
<line x1="215.83" y1="606.80" x2="215.83" y2="609.40" stroke="#000" stroke-width="1.2"/>
<text x="215.83" y="618.40" font-size="8.0" text-anchor="middle" textLength="8.20" lengthAdjust="spacingAndGlyphs">20</text>
<line x1="241.70" y1="606.80" x2="241.70" y2="609.40" stroke="#000" stroke-width="1.2"/>
<text x="241.70" y="618.40" font-size="8.0" text-anchor="middle" textLength="8.20" lengthAdjust="spacingAndGlyphs">30</text>
<line x1="164.10" y1="598.70" x2="179.88" y2="598.70" stroke="#000" stroke-width="1.3"/>
<polyline points="169.27,598.70 174.45,578.83 179.62,574.06 184.79,566.90 189.97,562.13 195.14,556.57 200.31,551.00 205.49,531.12 210.66,521.59" fill="none" stroke="#000" stroke-width="1.25" stroke-linejoin="round"/>
<polyline points="174.45,598.70 179.62,578.03 184.79,572.47 189.97,565.31 195.14,558.95 200.31,554.98 205.49,536.69 210.66,523.17" fill="none" stroke="#000" stroke-width="1.25" stroke-linejoin="round"/>
<polyline points="174.45,598.70 179.62,580.42 184.79,570.88 189.97,540.67 195.14,538.28 200.31,519.20" fill="none" stroke="#000" stroke-width="1.25" stroke-linejoin="round"/>
<polyline points="179.62,598.70 184.79,573.26 189.97,551.00 195.14,535.10 200.31,521.59" fill="none" stroke="#000" stroke-width="1.25" stroke-linejoin="round"/>
<polyline points="179.62,598.70 184.79,577.24 189.97,554.98 195.14,536.69 200.31,531.12 205.49,511.25" fill="none" stroke="#000" stroke-width="1.25" stroke-linejoin="round"/>
<polyline points="179.62,598.70 184.79,575.64 189.97,547.02 195.14,543.05 200.31,532.72 202.90,522.38" fill="none" stroke="#000" stroke-width="1.25" stroke-linejoin="round"/>
<polyline points="179.62,598.70 184.79,574.85 189.97,565.31 195.14,561.34 200.31,557.36 205.49,538.28 210.66,519.20" fill="none" stroke="#000" stroke-width="1.25" stroke-linejoin="round"/>
<polyline points="177.03,598.70 182.21,576.44 187.38,563.72 192.55,544.64 197.73,538.28 202.90,525.56" fill="none" stroke="#000" stroke-width="1.25" stroke-linejoin="round"/>
<polyline points="179.62,598.70 184.79,572.47 189.97,543.05 195.14,539.08 197.73,532.72 200.31,524.76" fill="none" stroke="#000" stroke-width="1.25" stroke-linejoin="round"/>
<polyline points="177.03,598.70 182.21,578.83 187.38,566.90 192.55,562.13 197.73,558.95 200.31,555.77 205.49,535.10 210.66,524.76" fill="none" stroke="#000" stroke-width="1.25" stroke-linejoin="round"/>
<text transform="translate(148.10,555.10) rotate(-90)" x="0" y="0" font-size="7.4" text-anchor="middle" textLength="75.7" lengthAdjust="spacingAndGlyphs">Tumor diameter (mm)</text>
<text x="173.20" y="509.20" font-size="8.6" textLength="21.90" lengthAdjust="spacingAndGlyphs">10/10</text>
<line x1="292.30" y1="503.20" x2="292.30" y2="609.50" stroke="#000" stroke-width="1.2"/>
<line x1="291.70" y1="606.90" x2="370.10" y2="606.90" stroke="#000" stroke-width="1.2"/>
<line x1="289.30" y1="598.90" x2="292.30" y2="598.90" stroke="#000" stroke-width="1.2"/>
<text x="288.30" y="602.00" font-size="8.1" text-anchor="end" textLength="3.95" lengthAdjust="spacingAndGlyphs">0</text>
<line x1="289.30" y1="582.95" x2="292.30" y2="582.95" stroke="#000" stroke-width="1.2"/>
<text x="288.30" y="586.05" font-size="8.1" text-anchor="end" textLength="3.95" lengthAdjust="spacingAndGlyphs">2</text>
<line x1="289.30" y1="567.00" x2="292.30" y2="567.00" stroke="#000" stroke-width="1.2"/>
<text x="288.30" y="570.10" font-size="8.1" text-anchor="end" textLength="3.95" lengthAdjust="spacingAndGlyphs">4</text>
<line x1="289.30" y1="551.05" x2="292.30" y2="551.05" stroke="#000" stroke-width="1.2"/>
<text x="288.30" y="554.15" font-size="8.1" text-anchor="end" textLength="3.95" lengthAdjust="spacingAndGlyphs">6</text>
<line x1="289.30" y1="535.10" x2="292.30" y2="535.10" stroke="#000" stroke-width="1.2"/>
<text x="288.30" y="538.20" font-size="8.1" text-anchor="end" textLength="3.95" lengthAdjust="spacingAndGlyphs">8</text>
<line x1="289.30" y1="519.15" x2="292.30" y2="519.15" stroke="#000" stroke-width="1.2"/>
<text x="288.30" y="522.25" font-size="8.1" text-anchor="end" textLength="8.00" lengthAdjust="spacingAndGlyphs">10</text>
<line x1="289.30" y1="503.20" x2="292.30" y2="503.20" stroke="#000" stroke-width="1.2"/>
<text x="288.30" y="506.30" font-size="8.1" text-anchor="end" textLength="8.00" lengthAdjust="spacingAndGlyphs">12</text>
<line x1="292.30" y1="606.90" x2="292.30" y2="609.50" stroke="#000" stroke-width="1.2"/>
<text x="292.30" y="618.50" font-size="8.0" text-anchor="middle" textLength="4.00" lengthAdjust="spacingAndGlyphs">0</text>
<line x1="318.03" y1="606.90" x2="318.03" y2="609.50" stroke="#000" stroke-width="1.2"/>
<text x="318.03" y="618.50" font-size="8.0" text-anchor="middle" textLength="8.20" lengthAdjust="spacingAndGlyphs">10</text>
<line x1="343.77" y1="606.90" x2="343.77" y2="609.50" stroke="#000" stroke-width="1.2"/>
<text x="343.77" y="618.50" font-size="8.0" text-anchor="middle" textLength="8.20" lengthAdjust="spacingAndGlyphs">20</text>
<line x1="369.50" y1="606.90" x2="369.50" y2="609.50" stroke="#000" stroke-width="1.2"/>
<text x="369.50" y="618.50" font-size="8.0" text-anchor="middle" textLength="8.20" lengthAdjust="spacingAndGlyphs">30</text>
<line x1="292.30" y1="598.90" x2="307.74" y2="598.90" stroke="#000" stroke-width="1.3"/>
<polyline points="302.59,598.90 307.74,576.57 312.89,563.01 318.03,547.06 323.18,543.08 328.33,524.73" fill="none" stroke="#000" stroke-width="1.25" stroke-linejoin="round"/>
<polyline points="302.59,598.90 307.74,582.95 312.89,570.99 318.03,559.02 323.18,551.05 328.33,535.10 333.47,527.12 338.62,516.76" fill="none" stroke="#000" stroke-width="1.25" stroke-linejoin="round"/>
<polyline points="307.74,598.90 312.89,570.99 318.03,563.01 323.18,555.04 328.33,541.48 333.47,528.72 338.62,523.93" fill="none" stroke="#000" stroke-width="1.25" stroke-linejoin="round"/>
<polyline points="307.74,598.90 312.89,578.96 318.03,568.60 323.18,567.00 328.33,551.05 333.47,531.11" fill="none" stroke="#000" stroke-width="1.25" stroke-linejoin="round"/>
<polyline points="305.17,598.90 310.31,574.98 315.46,562.22 320.61,554.24 325.75,544.67 330.90,531.91 336.05,527.12" fill="none" stroke="#000" stroke-width="1.25" stroke-linejoin="round"/>
<polyline points="307.74,598.90 312.89,573.38 318.03,560.62 323.18,552.64 328.33,540.68 333.47,530.32 338.11,523.93" fill="none" stroke="#000" stroke-width="1.25" stroke-linejoin="round"/>
<text x="307.20" y="509.50" font-size="8.6" textLength="12.30" lengthAdjust="spacingAndGlyphs">6/6</text>
</svg>
</body></html>
